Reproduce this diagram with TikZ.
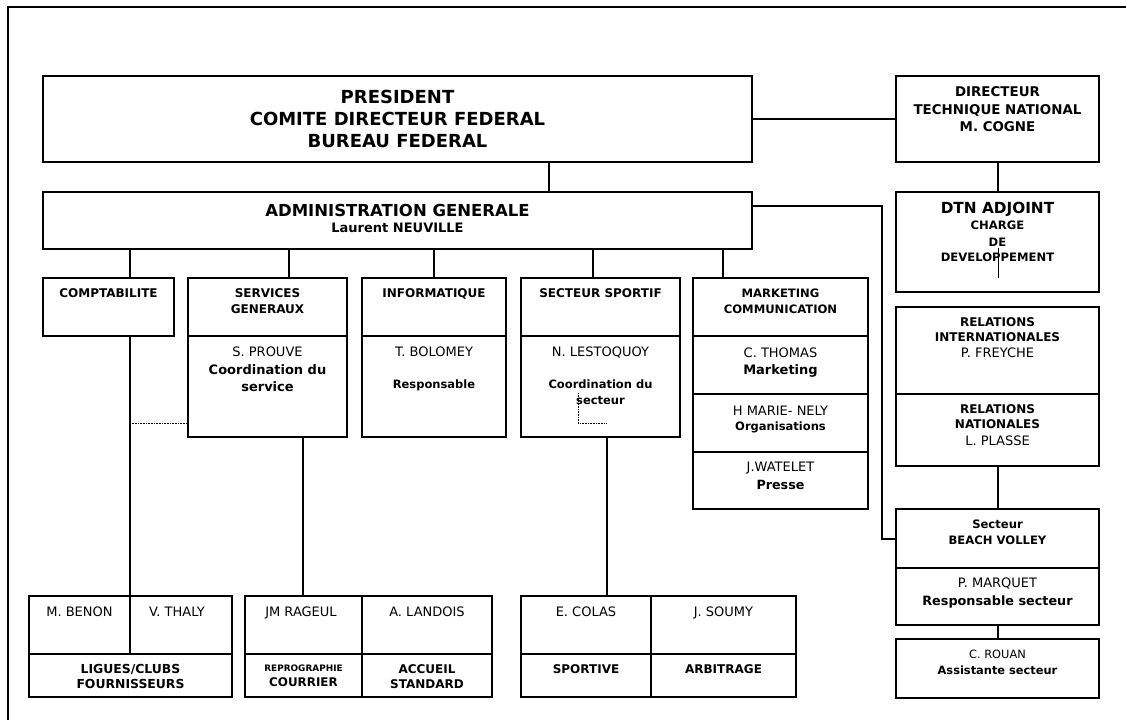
\documentclass[tikz,border=0pt]{standalone}
\usepackage{fontspec}
\setmainfont{DejaVu Sans}
\usetikzlibrary{calc}
\newcommand\mkbox[5]{\node[bx, minimum width={(#4-#2)*1pt}, minimum height={(#5-#3)*1pt}] (#1) at ({(#2+#4)/2},{(#3+#5)/2}) {};}
\newcommand\tl[5]{\node[#1] (#2) at (#3,#4) {#5};}
\tikzset{
 bx/.style={draw, line width=1.3pt, inner sep=0pt, outer sep=0pt, rectangle},
 T/.style={inner sep=0pt, outer sep=0pt, text depth=0pt, text=black, anchor=center},
 B/.style={T, font=\bfseries\fontsize{#1}{#1}\selectfont, text height={0.729*#1pt}},
 R/.style={T, font=\fontsize{#1}{#1}\selectfont, text height={0.729*#1pt}},
 ln/.style={line width=1.1pt},
 dt/.style={line width=0.7pt, dash pattern=on 0.8pt off 0.8pt},
 dv/.style={line width=1.2pt}
}
\begin{document}
\begin{tikzpicture}[x=1pt,y=-1pt]
\useasboundingbox (0,0) rectangle (1126,720);
\draw[line width=1.3pt] (8,720) -- (8,7) -- (1126,7);
% boxes
\mkbox{pres}{43}{76}{752}{162}
\mkbox{dtn}{896}{76}{1099}{162}
\mkbox{admin}{43}{192}{752}{249}
\mkbox{adj}{896}{192}{1099}{292}
\mkbox{compta}{43}{278}{174}{336}
\mkbox{serv}{188}{278}{347}{437}
\mkbox{info}{362}{278}{506}{437}
\mkbox{sport}{521}{278}{680}{437}
\mkbox{mkt}{693}{278}{868}{509}
\mkbox{rel}{896}{307}{1099}{466}
\mkbox{beach}{896}{509}{1099}{625}
\mkbox{rouan}{896}{639}{1099}{698}
\mkbox{bA}{29}{596}{232}{697}
\mkbox{bB}{245}{596}{492}{697}
\mkbox{bC}{521}{596}{796}{697}
% dividers
\draw[dv] (188,336) -- (347,336);
\draw[dv] (362,336) -- (506,336);
\draw[dv] (521,336) -- (680,336);
\draw[dv] (693,336) -- (868,336);
\draw[dv] (693,394) -- (868,394);
\draw[dv] (693,452) -- (868,452);
\draw[dv] (896,394) -- (1099,394);
\draw[dv] (896,568) -- (1099,568);
\draw[dv] (29,654) -- (232,654);
\draw[dv] (130,596) -- (130,654);
\draw[dv] (245,654) -- (492,654);
\draw[dv] (362,596) -- (362,697);
\draw[dv] (521,654) -- (796,654);
\draw[dv] (651,596) -- (651,697);
% named coordinates for connectors
\coordinate (k130) at (130,0);
\coordinate (k289) at (289,0);
\coordinate (k303) at (303,0);
\coordinate (k434) at (434,0);
\coordinate (k549) at (549,0);
\coordinate (k593) at (593,0);
\coordinate (k607) at (607,0);
\coordinate (k723) at (723,0);
\coordinate (k998) at (998,0);
\coordinate (xb) at (882,0);
\coordinate (yb) at (0,206);
\coordinate (yc) at (0,539);
\coordinate (d1) at (130,423);
\coordinate (d2) at (578,393);
\coordinate (d3) at (606,423);
\coordinate (s1) at (998,248);
\coordinate (s2) at (998,278);
% connectors
\draw[ln] (pres.east) -- (dtn.west);
\draw[ln] (pres.south -| k549) -- (admin.north -| k549);
\draw[ln] (dtn.south -| k998) -- (adj.north -| k998);
\draw[line width=0.9pt] (s1) -- (s2);
\draw[ln] (admin.south -| k130) -- (compta.north -| k130);
\draw[ln] (compta.south -| k130) -- (bA.north -| k130);
\draw[dt] (d1) -- (d1 -| serv.west);
\draw[ln] (admin.south -| k289) -- (serv.north -| k289);
\draw[ln] (serv.south -| k303) -- (bB.north -| k303);
\draw[ln] (admin.south -| k434) -- (info.north -| k434);
\draw[ln] (admin.south -| k593) -- (sport.north -| k593);
\draw[ln] (sport.south -| k607) -- (bC.north -| k607);
\draw[dt] (d2) |- (d3);
\draw[ln] (admin.south -| k723) -- (mkt.north -| k723);
\draw[ln] (admin.east |- yb) -| (xb |- yc) -- (beach.west |- yc);
\draw[ln] (rel.south -| k998) -- (beach.north -| k998);
\draw[ln] (beach.south -| k998) -- (rouan.north -| k998);
% texts
\tl{B=18}{t1}{397.5}{97}{PRESIDENT}
\tl{B=18}{t2}{397.5}{119}{COMITE DIRECTEUR FEDERAL}
\tl{B=18}{t3}{397.5}{141}{BUREAU FEDERAL}
\tl{B=16.5}{t4}{397.5}{210}{ADMINISTRATION GENERALE}
\tl{B=13}{t5}{397.5}{228}{Laurent NEUVILLE}
\tl{B=13.4}{t6}{997.5}{92}{DIRECTEUR}
\tl{B=13.4}{t7}{997.5}{109.5}{TECHNIQUE NATIONAL}
\tl{B=13.4}{t8}{997.5}{127}{M. COGNE}
\tl{B=15.3}{t9}{997.5}{208}{DTN ADJOINT}
\tl{B=11.6}{t10}{997.5}{225}{CHARGE}
\tl{B=11.6}{t11}{997.5}{242}{DE}
\tl{B=11.6}{t12}{997.5}{257}{DEVELOPPEMENT}
\tl{B=12}{t13}{997.5}{322}{RELATIONS}
\tl{B=12}{t14}{997.5}{337}{INTERNATIONALES}
\tl{R=13}{t15}{997.5}{353}{P. FREYCHE}
\tl{B=12}{t16}{997.5}{409}{RELATIONS}
\tl{B=12}{t17}{997.5}{424}{NATIONALES}
\tl{R=13}{t18}{997.5}{441}{L. PLASSE}
\tl{B=12}{t19}{108.5}{293}{COMPTABILITE}
\tl{B=12}{t20}{267.5}{293}{SERVICES}
\tl{B=12}{t21}{267.5}{309}{GENERAUX}
\tl{R=13}{t22}{267.5}{352}{S. PROUVE}
\tl{B=13}{t23}{267.5}{370}{Coordination du}
\tl{B=13}{t24}{267.5}{387}{service}
\tl{B=12}{t25}{434}{293}{INFORMATIQUE}
\tl{R=13}{t26}{434}{352}{T. BOLOMEY}
\tl{B=11.5}{t27}{434}{384}{Responsable}
\tl{B=12}{t28}{600.5}{293}{SECTEUR SPORTIF}
\tl{R=13}{t29}{600.5}{352}{N. LESTOQUOY}
\tl{B=11.5}{t30}{600.5}{384}{Coordination du}
\tl{B=11.5}{t31}{600.5}{400}{secteur}
\tl{B=11.6}{t32}{780.5}{293}{MARKETING}
\tl{B=11.6}{t33}{780.5}{309}{COMMUNICATION}
\tl{R=13}{t34}{780.5}{353}{C. THOMAS}
\tl{B=13}{t35}{780.5}{370}{Marketing}
\tl{R=13}{t36}{780.5}{411}{H MARIE- NELY}
\tl{B=11.5}{t37}{780.5}{426}{Organisations}
\tl{R=13}{t38}{780.5}{467}{J.WATELET}
\tl{B=12.7}{t39}{780.5}{485}{Presse}
\tl{B=11.6}{t40}{997.5}{524}{Secteur}
\tl{B=11.6}{t41}{997.5}{540}{BEACH VOLLEY}
\tl{R=13}{t42}{997.5}{583}{P. MARQUET}
\tl{B=12.8}{t43}{997.5}{601}{Responsable secteur}
\tl{R=11.4}{t44}{997.5}{654}{C. ROUAN}
\tl{B=11.4}{t45}{997.5}{670}{Assistante secteur}
\tl{R=13}{t46}{79.5}{612}{M. BENON}
\tl{R=13}{t47}{177}{612}{V. THALY}
\tl{B=12.4}{t48}{130.5}{669}{LIGUES/CLUBS}
\tl{B=12.4}{t49}{130.5}{684}{FOURNISSEURS}
\tl{R=13}{t50}{301}{612}{JM RAGEUL}
\tl{R=13}{t51}{427}{612}{A. LANDOIS}
\tl{B=8.9}{t52}{303.5}{668}{REPROGRAPHIE}
\tl{B=11.9}{t53}{303.5}{682}{COURRIER}
\tl{B=12}{t54}{427}{669}{ACCUEIL}
\tl{B=12}{t55}{427}{684}{STANDARD}
\tl{R=13}{t56}{586}{612}{E. COLAS}
\tl{R=13}{t57}{723.5}{612}{J. SOUMY}
\tl{B=12}{t58}{586}{669}{SPORTIVE}
\tl{B=12}{t59}{723.5}{669}{ARBITRAGE}
\end{tikzpicture}
\end{document}
